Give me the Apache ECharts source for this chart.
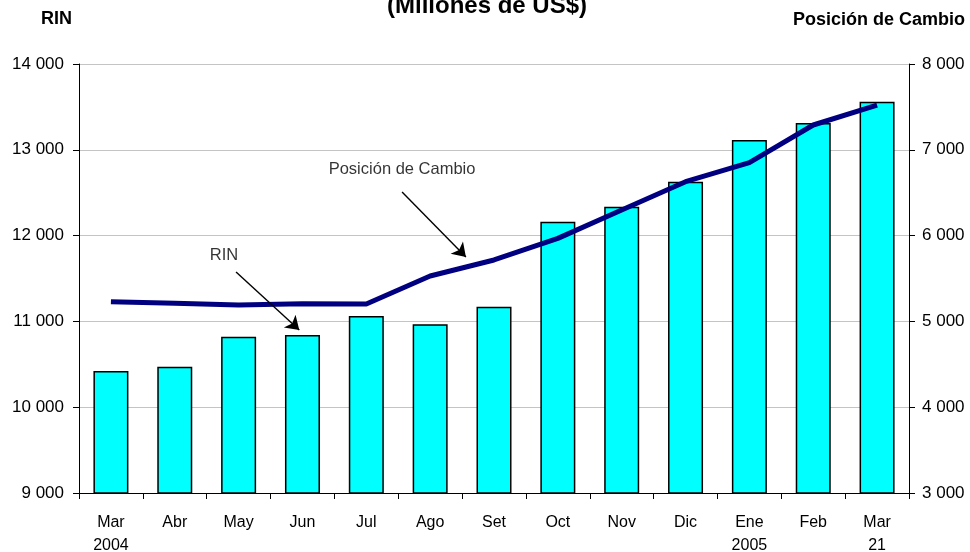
<!DOCTYPE html>
<html>
<head>
<meta charset="utf-8">
<script src="https://cdn.jsdelivr.net/npm/echarts@6/dist/echarts.min.js"></script>
<style>
  html, body { margin: 0; padding: 0; background: #fff; }
  #main { width: 970px; height: 552px; }
</style>
</head>
<body>
<div id="main"></div>
<script>
// months, Mar 2004 .. Mar 21 2005
const months = ["Mar\n2004", "Abr", "May", "Jun", "Jul", "Ago", "Set", "Oct", "Nov", "Dic", "Ene\n2005", "Feb", "Mar\n21"];
// RIN (left axis, millones de US$)
const rin = [10422, 10470, 10822, 10841, 11063, 10966, 11171, 12162, 12337, 12628, 13114, 13312, 13560];
// Posición de Cambio (right axis)
const posicion = [5230, 5211, 5190, 5206, 5203, 5529, 5716, 5968, 6298, 6628, 6850, 7289, 7522];

// annotation arrows, in (category index, RIN value) terms
const arrows = [
  [[1.96, 11576], [2.95, 10900]],
  [[4.56, 12508], [5.56, 11751]],
];
const notes = [
  { name: "RIN", value: [1.77, 11774] },
  { name: "Posición de Cambio", value: [4.56, 12776] },
];

const font = "'Liberation Sans', Arial, sans-serif";
const chart = echarts.init(document.getElementById("main"));

const fmt = (v) => String(v).replace(/(\d)(?=(\d{3})+$)/g, "$1 ");
const yLabel = { color: "#000", fontFamily: font, fontSize: 17, formatter: fmt };

chart.setOption({
  animation: false,
  textStyle: { fontFamily: font },
  graphic: [
    {
      type: "text", x: 487, y: 6,
      style: { text: "(Millones de US$)", font: "bold 24px " + font, fill: "#000", align: "center", verticalAlign: "middle" },
    },
    {
      type: "text", x: 41, y: 19,
      style: { text: "RIN", font: "bold 18px " + font, fill: "#000", align: "left", verticalAlign: "middle" },
    },
    {
      type: "text", x: 965, y: 20,
      style: { text: "Posición de Cambio", font: "bold 18px " + font, fill: "#000", align: "right", verticalAlign: "middle" },
    },
  ],
  grid: { left: 79, right: 61, top: 64, bottom: 59, outerBoundsMode: "none", containLabel: false },
  xAxis: [
    {
      type: "category",
      data: months,
      boundaryGap: true,
      axisLine: { lineStyle: { color: "#000", width: 1 } },
      axisTick: { show: true, alignWithLabel: false, length: 6, lineStyle: { color: "#000" } },
      axisLabel: { color: "#000", fontFamily: font, fontSize: 16, margin: 18, lineHeight: 23, interval: 0 },
    },
    {
      type: "value",
      min: -0.5,
      max: 12.5,
      show: false,
    },
  ],
  yAxis: [
    {
      type: "value",
      min: 9000,
      max: 14000,
      interval: 1000,
      position: "left",
      axisLine: { show: true, onZero: false, lineStyle: { color: "#000" } },
      axisTick: { show: true, length: 6, lineStyle: { color: "#000" } },
      splitLine: { show: true, lineStyle: { color: "#c4c4c4", width: 1 } },
      axisLabel: { ...yLabel, margin: 15 },
    },
    {
      type: "value",
      min: 3000,
      max: 8000,
      interval: 1000,
      position: "right",
      axisLine: { show: true, onZero: false, lineStyle: { color: "#000" } },
      axisTick: { show: true, length: 6, lineStyle: { color: "#000" } },
      splitLine: { show: false },
      axisLabel: { ...yLabel, margin: 13 },
    },
  ],
  series: [
    {
      name: "RIN",
      type: "bar",
      data: rin,
      barWidth: 35,
      itemStyle: { color: "#00ffff", borderColor: "#000", borderWidth: 1.5 },
    },
    {
      name: "Posición de Cambio",
      type: "line",
      yAxisIndex: 1,
      data: posicion,
      symbol: "none",
      lineStyle: { color: "#000080", width: 5 },
    },
    {
      type: "lines",
      coordinateSystem: "cartesian2d",
      xAxisIndex: 1,
      yAxisIndex: 0,
      symbol: ["none", "arrow"],
      symbolSize: 13,
      lineStyle: { color: "#000", width: 1.4, opacity: 1 },
      data: arrows.map((c) => ({ coords: c })),
      z: 5,
    },
    {
      type: "scatter",
      xAxisIndex: 1,
      yAxisIndex: 0,
      symbolSize: 0,
      data: notes,
      label: {
        show: true,
        position: "inside",
        formatter: (p) => p.name,
        color: "#000",
        fontFamily: font,
        fontSize: 16.5,
      },
      z: 5,
    },
  ],
});
</script>
</body>
</html>
